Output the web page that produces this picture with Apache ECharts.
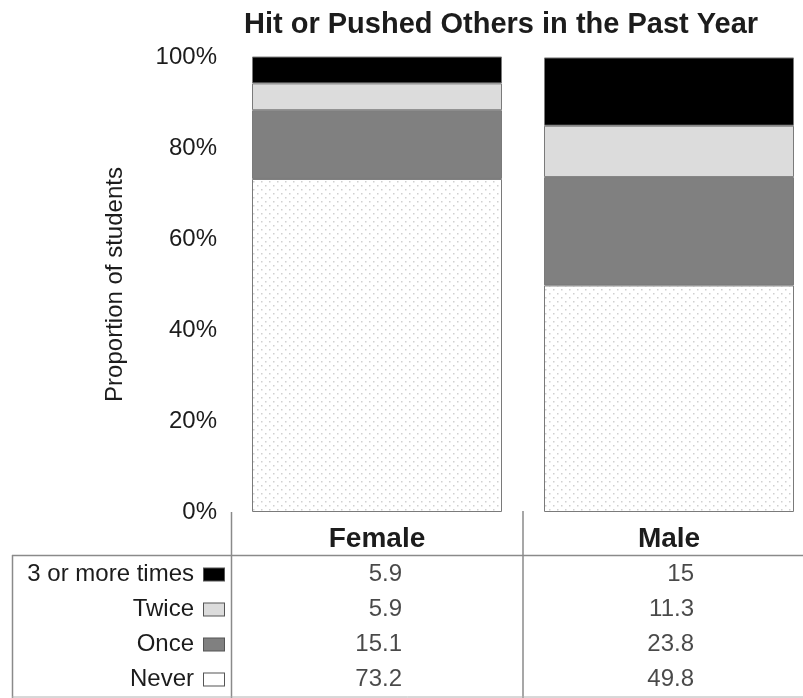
<!DOCTYPE html>
<html>
<head>
<meta charset="utf-8">
<script src="https://cdn.jsdelivr.net/npm/echarts@6/dist/echarts.min.js"></script>
<style>
html,body{margin:0;padding:0;background:#fff;}
#chart{width:803px;height:698px;}
</style>
</head>
<body>
<div id="chart"></div>
<script>
// ---- data ----
var categories = ['Female', 'Male'];
var seriesNames = ['Never', 'Once', 'Twice', '3 or more times'];
var neverVals = [73.2, 49.8];
var onceVals = [15.1, 23.8];
var twiceVals = [5.9, 11.3];
var threePlusVals = [5.9, 15];
var yTicks = [0, 20, 40, 60, 80, 100];
var tableRows = ['3 or more times', 'Twice', 'Once', 'Never'];
var titleText = 'Hit or Pushed Others in the Past Year';
var yTitle = 'Proportion of students';

// ---- styles ----
var FONT = 'Arial, "Liberation Sans", sans-serif';
var TXT = '#1c1c1c';
var BORDER = '#7a7a7a';

function makeDots() {
  var c = document.createElement('canvas');
  c.width = 8; c.height = 8;
  var g = c.getContext('2d');
  g.fillStyle = '#ffffff';
  g.fillRect(0, 0, 8, 8);
  g.fillStyle = '#d0d0d0';
  g.fillRect(1, 1, 1.5, 1.5);
  g.fillRect(5, 5, 1.5, 1.5);
  return c;
}
var dotPattern = { image: makeDots(), repeat: 'repeat' };

var fills = [dotPattern, '#808080', '#dcdcdc', '#000000'];
var keyFills = ['#ffffff', '#808080', '#dcdcdc', '#000000'];
var valuesBySeries = [neverVals, onceVals, twiceVals, threePlusVals];

var barSeries = seriesNames.map(function (n, i) {
  return {
    name: n, type: 'bar', stack: 'total', xAxisIndex: 0, yAxisIndex: 0,
    barWidth: 250,
    data: valuesBySeries[i],
    itemStyle: { color: fills[i], borderColor: BORDER, borderWidth: 1 },
    silent: true
  };
});

function rowValues(rowName) {
  return valuesBySeries[seriesNames.indexOf(rowName)];
}
var cellData = [];
tableRows.forEach(function (r) {
  var vals = rowValues(r);
  categories.forEach(function (c, ci) {
    cellData.push([c, r, vals[ci]]);
  });
});

var rich = { t: { fontSize: 24, fontFamily: FONT, color: TXT, padding: [0, 10, 0, 0] } };
tableRows.forEach(function (r, i) {
  var fi = seriesNames.indexOf(r);
  rich['k' + i] = { width: 20, height: 12, backgroundColor: keyFills[fi], borderColor: '#555', borderWidth: 1 };
});

var option = {
  animation: false,
  backgroundColor: '#ffffff',
  title: {
    text: titleText, left: 496, top: 5, textAlign: 'center',
    textStyle: { fontFamily: FONT, fontSize: 29, fontWeight: 'bold', color: TXT }
  },
  grid: [
    { left: 231, top: 57, width: 584, height: 455, outerBoundsMode: 'none', containLabel: false },
    { left: 231, top: 557, width: 584, height: 140, outerBoundsMode: 'none', containLabel: false }
  ],
  xAxis: [
    { gridIndex: 0, type: 'category', data: categories,
      axisLine: { show: false }, axisTick: { show: false }, axisLabel: { show: false }, splitLine: { show: false } },
    { gridIndex: 1, type: 'category', data: categories, position: 'top',
      axisLine: { show: false }, axisTick: { show: false }, splitLine: { show: false },
      axisLabel: { margin: 4, fontFamily: FONT, fontSize: 28, fontWeight: 'bold', color: TXT } }
  ],
  yAxis: [
    { gridIndex: 0, type: 'value', min: yTicks[0], max: yTicks[yTicks.length - 1], interval: 20,
      axisLine: { show: false }, axisTick: { show: false }, splitLine: { show: false },
      axisLabel: { margin: 14, fontFamily: FONT, fontSize: 24, color: TXT, formatter: '{value}%', padding: [8, 0, 0, 0] },
      name: yTitle, nameLocation: 'middle', nameRotate: 90, nameGap: 104,
      nameTextStyle: { fontFamily: FONT, fontSize: 24, color: TXT } },
    { gridIndex: 1, type: 'category', data: tableRows, inverse: true,
      axisLine: { show: false }, axisTick: { show: false }, splitLine: { show: false },
      axisLabel: {
        margin: 7, rich: rich,
        formatter: function (v) { return '{t|' + v + '}{k' + tableRows.indexOf(v) + '|}'; }
      } }
  ],
  series: barSeries.concat([{
    type: 'scatter', xAxisIndex: 1, yAxisIndex: 1, symbolSize: 0, silent: true,
    data: cellData,
    label: {
      show: true, position: 'inside', align: 'right', offset: [25, 0],
      fontFamily: FONT, fontSize: 24, color: TXT,
      formatter: function (p) { return String(p.value[2]); }
    }
  }]),
  graphic: [
    { type: 'line', shape: { x1: 12, y1: 555.5, x2: 803, y2: 555.5 }, style: { stroke: '#8a8a8a', lineWidth: 1.5 } },
    { type: 'line', shape: { x1: 12.5, y1: 555, x2: 12.5, y2: 698 }, style: { stroke: '#8a8a8a', lineWidth: 1.5 } },
    { type: 'line', shape: { x1: 231.5, y1: 512, x2: 231.5, y2: 698 }, style: { stroke: '#8a8a8a', lineWidth: 1.5 } },
    { type: 'line', shape: { x1: 523, y1: 511, x2: 523, y2: 698 }, style: { stroke: '#8a8a8a', lineWidth: 1.5 } },
    { type: 'line', shape: { x1: 12, y1: 697, x2: 803, y2: 697 }, style: { stroke: '#b0b0b0', lineWidth: 1 } }
  ]
};

var chart = echarts.init(document.getElementById('chart'), null, { renderer: 'canvas' });
chart.setOption(option);
</script>
</body>
</html>
